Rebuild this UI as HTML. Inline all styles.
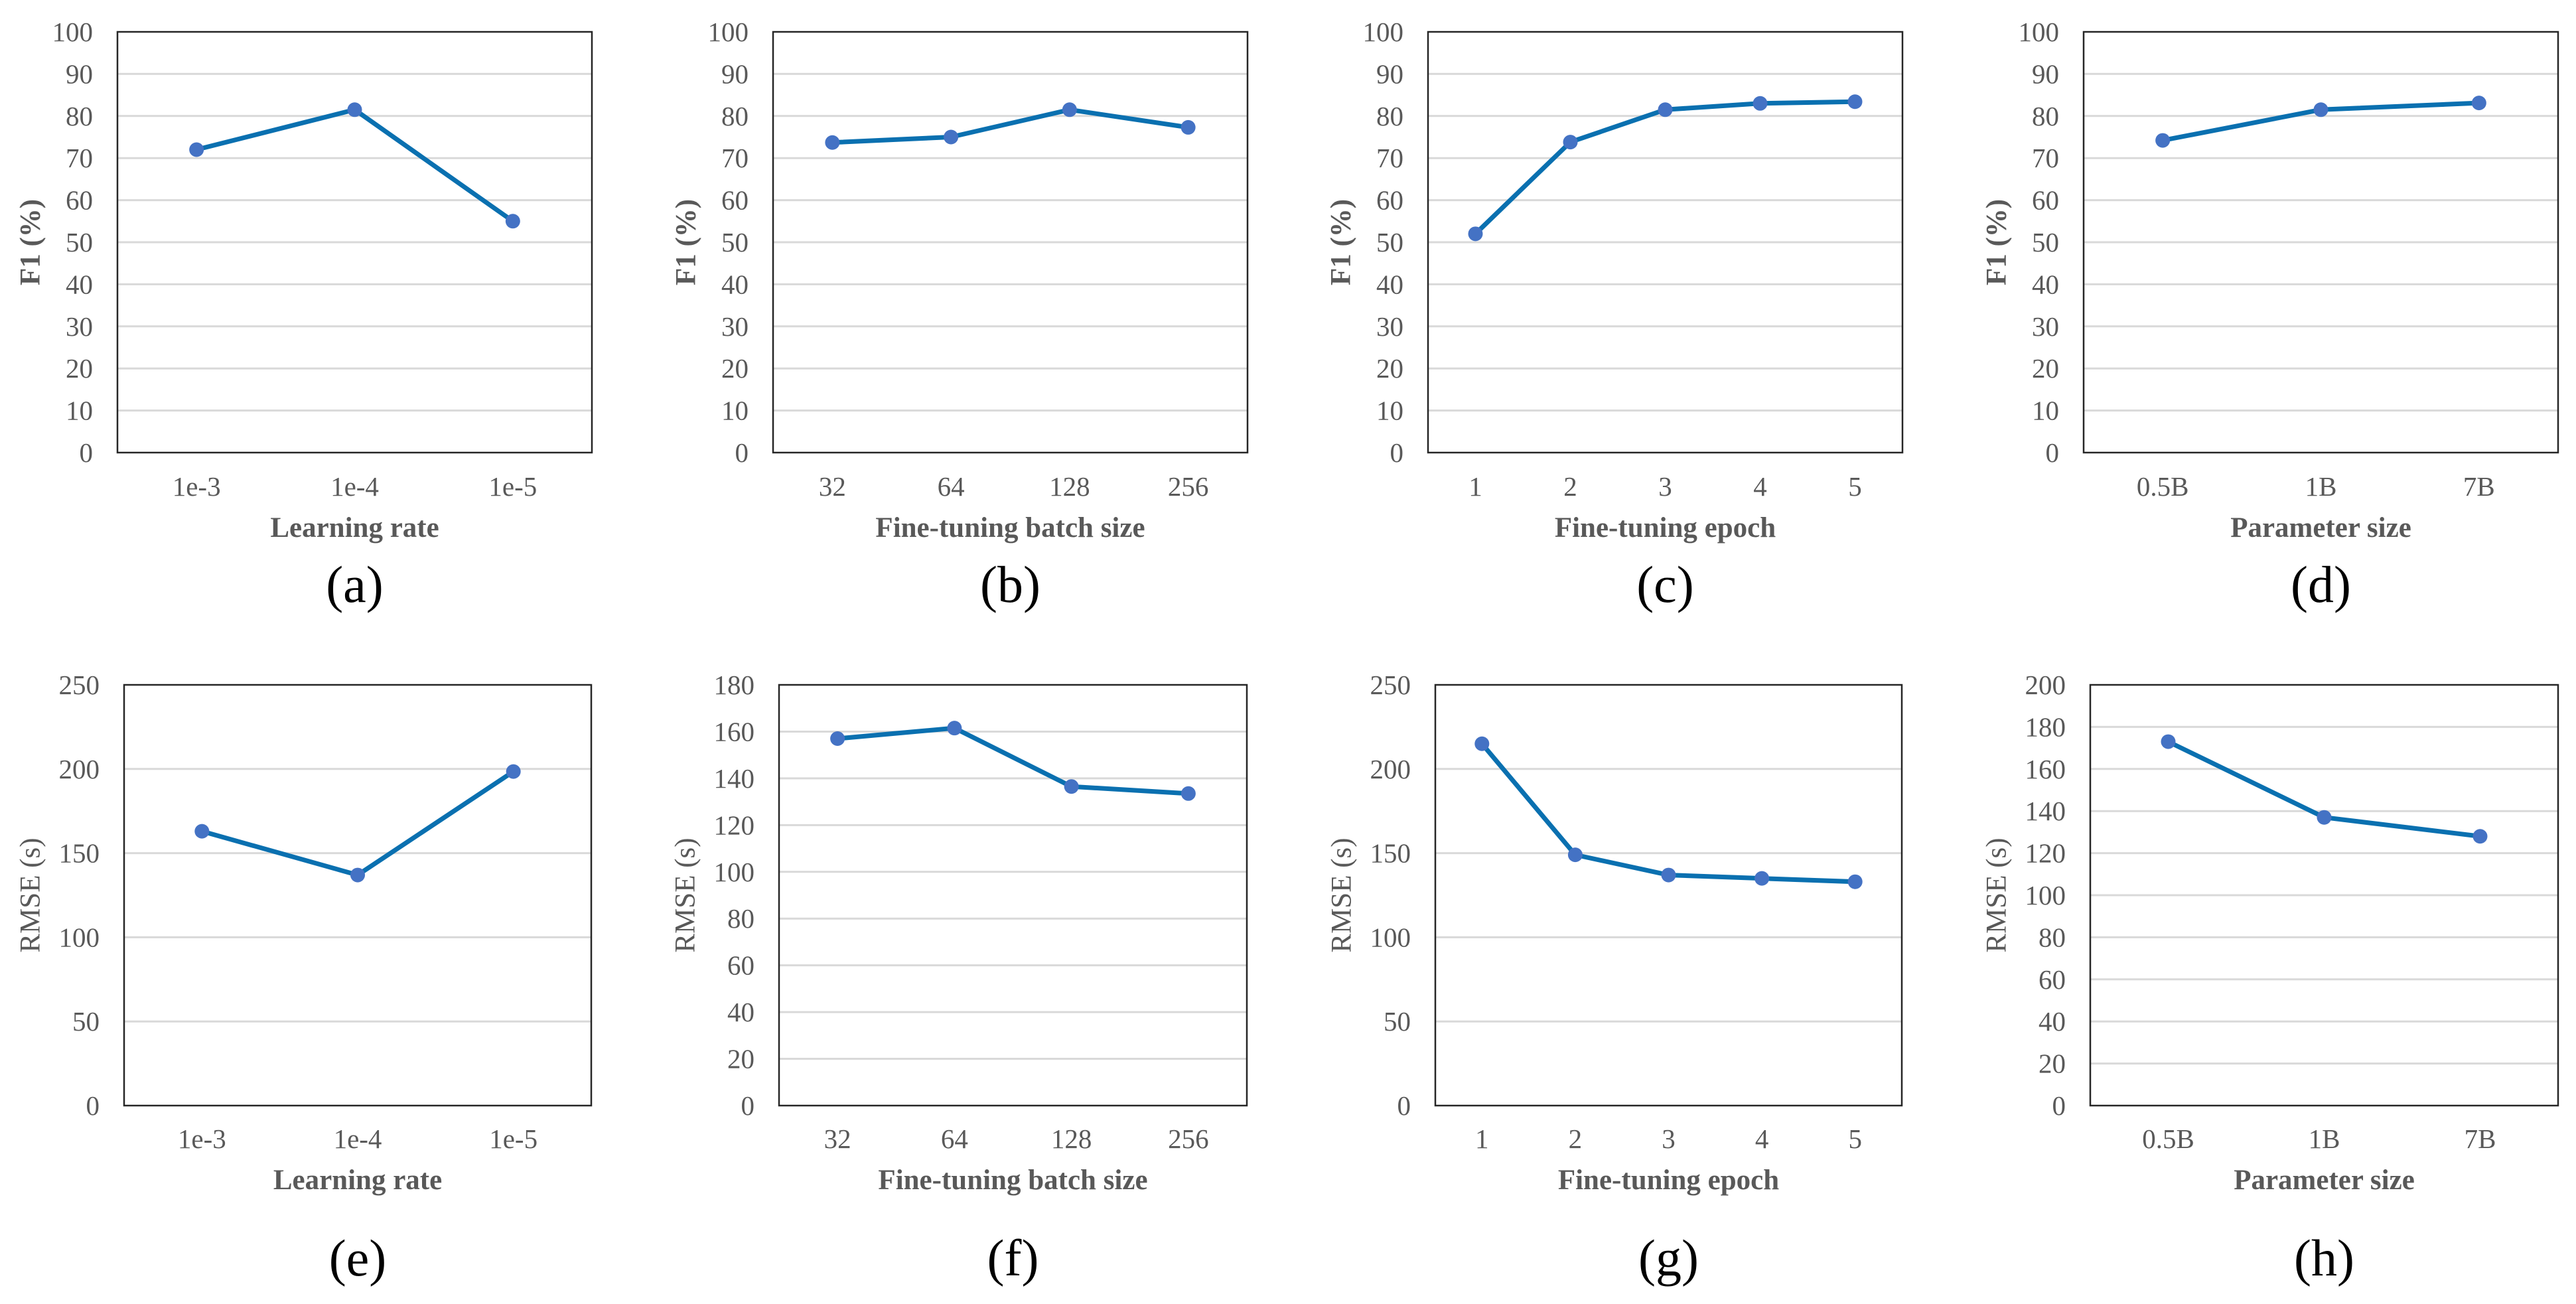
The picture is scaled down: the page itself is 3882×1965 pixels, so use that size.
<!DOCTYPE html>
<html><head><meta charset="utf-8"><style>
html,body{margin:0;padding:0;background:#fff;}
svg{display:block;}
text{font-family:"Liberation Serif","Times New Roman",serif;}
</style></head><body>
<svg id="fig" width="3882" height="1965" viewBox="0 0 3882 1965" xmlns="http://www.w3.org/2000/svg"></svg>
<script>
const catsLR = ["1e-3","1e-4","1e-5"];
const catsBatch = ["32","64","128","256"];
const catsEpoch = ["1","2","3","4","5"];
const catsParam = ["0.5B","1B","7B"];
const f1LR = [72, 81.5, 55];
const f1Batch = [73.7, 75, 81.5, 77.3];
const f1Epoch = [52, 73.8, 81.5, 83, 83.4];
const f1Param = [74.2, 81.5, 83.1];
const rmseLR = [163, 137, 198.5];
const rmseBatch = [157, 161.5, 136.5, 133.5];
const rmseEpoch = [215, 149, 137, 135, 133];
const rmseParam = [173, 137, 128];
const ticksF1 = [0,10,20,30,40,50,60,70,80,90,100];
const ticks250 = [0,50,100,150,200,250];
const ticks180 = [0,20,40,60,80,100,120,140,160,180];
const ticks200 = [0,20,40,60,80,100,120,140,160,180,200];

const NS = "http://www.w3.org/2000/svg";
const svg = document.getElementById("fig");
function mk(tag, attrs, parent){
  const e = document.createElementNS(NS, tag);
  for (const k in attrs) e.setAttribute(k, attrs[k]);
  (parent||svg).appendChild(e);
  return e;
}
const TT=48, TB=682, BT=1032, BB=1666;
const panels = [
  {id:"a",L:177,R:892,T:TT,B:TB,cats:catsLR,vals:f1LR,ticks:ticksF1,xt:"Learning rate",yt:"F1 (%)",bold:true,row:0},
  {id:"b",L:1165,R:1880,T:TT,B:TB,cats:catsBatch,vals:f1Batch,ticks:ticksF1,xt:"Fine-tuning batch size",yt:"F1 (%)",bold:true,row:0},
  {id:"c",L:2152,R:2867,T:TT,B:TB,cats:catsEpoch,vals:f1Epoch,ticks:ticksF1,xt:"Fine-tuning epoch",yt:"F1 (%)",bold:true,row:0},
  {id:"d",L:3140,R:3855,T:TT,B:TB,cats:catsParam,vals:f1Param,ticks:ticksF1,xt:"Parameter size",yt:"F1 (%)",bold:true,row:0},
  {id:"e",L:187,R:891,T:BT,B:BB,cats:catsLR,vals:rmseLR,ticks:ticks250,xt:"Learning rate",yt:"RMSE (s)",bold:false,row:1},
  {id:"f",L:1174,R:1879,T:BT,B:BB,cats:catsBatch,vals:rmseBatch,ticks:ticks180,xt:"Fine-tuning batch size",yt:"RMSE (s)",bold:false,row:1},
  {id:"g",L:2163,R:2866,T:BT,B:BB,cats:catsEpoch,vals:rmseEpoch,ticks:ticks250,xt:"Fine-tuning epoch",yt:"RMSE (s)",bold:false,row:1},
  {id:"h",L:3150,R:3855,T:BT,B:BB,cats:catsParam,vals:rmseParam,ticks:ticks200,xt:"Parameter size",yt:"RMSE (s)",bold:false,row:1}
];
panels.forEach(p=>{
  const g = mk("g",{});
  
  
  const ymax = p.ticks[p.ticks.length-1];
  const y = v => p.B - (v/ymax)*(p.B-p.T);
  const n = p.cats.length, w = (p.R-p.L)/n;
  const x = i => p.L + (i+0.5)*w;
  p.ticks.forEach(t=>{
    if (t>0 && t<ymax){
      const l = mk("line",{x1:p.L,x2:p.R,y1:y(t),y2:y(t),stroke:"#d9d9d9","stroke-width":3},g);
      
      
    }
    const tx = mk("text",{x:p.L-37,y:y(t)+14,"text-anchor":"end","font-size":41,fill:"#595959"},g);
    
    
    tx.textContent = t;
  });
  const box = mk("rect",{x:p.L,y:p.T,width:p.R-p.L,height:p.B-p.T,fill:"none",stroke:"#262626","stroke-width":2.5},g);
  
  
  const tickY = p.row===0 ? 747 : 1730;
  const titleY = p.row===0 ? 809 : 1792;
  const letY = p.row===0 ? 907 : 1922;
  p.cats.forEach((c,i)=>{
    const tx = mk("text",{x:x(i),y:tickY,"text-anchor":"middle","font-size":41,fill:"#595959"},g);
    
    
    tx.textContent = c;
  });
  const xt = mk("text",{x:(p.L+p.R)/2,y:titleY,"text-anchor":"middle","font-size":43,"font-weight":"bold",fill:"#595959"},g);
  
  
  xt.textContent = p.xt;
  const yc = (p.T+p.B)/2, yx = p.L - (p.row===0?131:141);
  const yt = mk("text",{x:yx,y:yc,"text-anchor":"middle","dominant-baseline":"central","font-size":43,"font-weight":p.bold?"bold":"normal",fill:"#595959",transform:`rotate(-90 ${yx} ${yc})`},g);
  
  
  yt.textContent = p.yt;
  const pts = p.vals.map((v,i)=>x(i)+","+y(v)).join(" ");
  const pl = mk("polyline",{points:pts,fill:"none",stroke:"#0a70b0","stroke-width":7,"stroke-linejoin":"round","stroke-linecap":"round"},g);
  
  
  p.vals.forEach((v,i)=>{
    const c = mk("circle",{cx:x(i),cy:y(v),r:11,fill:"#4472c4"},g);
    
    
  });
  const lt = mk("text",{x:(p.L+p.R)/2,y:letY,"text-anchor":"middle","font-size":78,fill:"#000"},g);
  
  
  lt.textContent = "("+p.id+")";
});
</script>
</body></html>
